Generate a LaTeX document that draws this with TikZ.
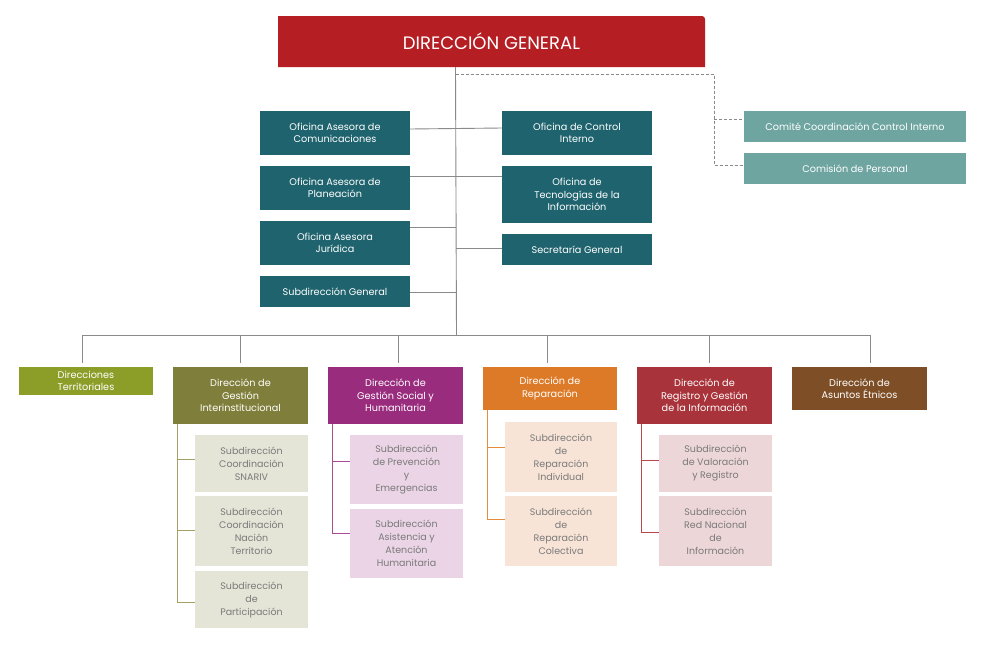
\documentclass[tikz,border=0pt]{standalone}
\usepackage{fontspec}
\setmainfont{Poppins}
\usetikzlibrary{calc}
\definecolor{dgred}{HTML}{B51F24}
\definecolor{teal1}{HTML}{1E636D}
\definecolor{teal2}{HTML}{6FA5A1}
\definecolor{cterr}{HTML}{8C9E27}
\definecolor{cgint}{HTML}{7F7E3A}
\definecolor{cgsoc}{HTML}{9A2C7E}
\definecolor{crep}{HTML}{DD7A27}
\definecolor{creg}{HTML}{A8333A}
\definecolor{cetn}{HTML}{7E4F27}
\definecolor{lgint}{HTML}{E4E4D7}
\definecolor{lgsoc}{HTML}{EAD4E5}
\definecolor{lrep}{HTML}{F7E4D6}
\definecolor{lreg}{HTML}{EDD6D8}
\definecolor{subtxt}{HTML}{7A7A7A}
\definecolor{lnolive}{HTML}{A3A163}
\definecolor{lnmag}{HTML}{AC4B93}
\definecolor{lnor}{HTML}{E58C3E}
\definecolor{lnred}{HTML}{BA474E}
\definecolor{lngrey}{HTML}{8A8A8A}
\tikzset{
  box/.style={rectangle, inner sep=0pt, align=center, text=white,
    font=\fontsize{9.7}{12.5}\selectfont},
  tealbox/.style={box, fill=teal1},
  ltealbox/.style={box, fill=teal2},
  subbox/.style={rectangle, inner sep=0pt, align=center, text=subtxt,
    font=\fontsize{9.5}{13}\selectfont},
  conn/.style={draw=lngrey, line width=0.9pt},
  dconn/.style={draw=lngrey, line width=0.9pt, dash pattern=on 3pt off 2pt},
}
\begin{document}
\begin{tikzpicture}[x=1pt,y=-1pt]
\useasboundingbox (0,0) rectangle (1005,654);
\fill[white] (0,0) rectangle (1005,654);

% Direccion General
\fill[dgred] (278,16) -- (702,16) arc[start angle=-90, end angle=0, radius=3] -- (705,67) -- (278,67) -- cycle;
\node[box, minimum width=427, minimum height=51,
  font=\fontsize{18}{20}\selectfont] (dg) at (491.5,41.5) {DIRECCIÓN GENERAL};

% Offices
\node[tealbox, minimum width=150, minimum height=44] (com) at (335,133) {Oficina Asesora de\\Comunicaciones};
\node[tealbox, minimum width=150, minimum height=44] (pla) at (335,188) {Oficina Asesora de\\Planeación};
\node[tealbox, minimum width=150, minimum height=44] (jur) at (335,243) {Oficina Asesora\\Jurídica};
\node[tealbox, minimum width=150, minimum height=31] (sgen) at (335,291.5) {Subdirección General};
\node[tealbox, minimum width=150, minimum height=44] (ci) at (577,133) {Oficina de Control\\Interno};
\node[tealbox, minimum width=150, minimum height=57] (tec) at (577,194.5) {Oficina de\\Tecnologías de la\\Información};
\node[tealbox, minimum width=150, minimum height=31] (sec) at (577,249.5) {Secretaría General};

% Committees
\node[ltealbox, minimum width=222, minimum height=31] (comite) at (855,126.5) {Comité Coordinación Control Interno};
\node[ltealbox, minimum width=222, minimum height=31] (comision) at (855,168.5) {Comisión de Personal};

% Coordinates for trunk and bus
\coordinate (trtop) at (455.5,67);
\coordinate (trbot) at (456.5,335);
\coordinate (busL) at (82,335);
\coordinate (busR) at (870,335);
\coordinate (dashA) at (455.5,74);
\coordinate (dashB) at (714,74);
\coordinate (dashC) at (714,165);

% Trunk
\draw[conn] (dg.south -| trtop) -- (trbot);
\draw[conn] (busL) -- (busR);
% Office links
\draw[conn] (com.east |- 0,129) -- (ci.west |- 0,128);
\draw[conn] (pla.east |- 0,176) -- (tec.west |- 0,176);
\draw[conn] (jur.east |- 0,227) -- (456,227);
\draw[conn] (456,248) -- (sec.west |- 0,248);
\draw[conn] (sgen.east |- 0,292) -- (456.5,292);

% Dashed to committees
\draw[dconn] (dashA) -- (dashB) -- (dashC) -- (comision.west |- dashC);
\draw[dconn] (714,119) -- (comite.west |- 0,119);

% Bottom directorates
\node[box, fill=cterr, minimum width=134, minimum height=28] (terr) at (86,381) {Direcciones\\Territoriales};
\node[box, fill=cgint, minimum width=135, minimum height=57] (gint) at (240.5,395.5) {Dirección de\\Gestión\\Interinstitucional};
\node[box, fill=cgsoc, minimum width=135, minimum height=57] (gsoc) at (395.5,395.5) {Dirección de\\Gestión Social y\\Humanitaria};
\node[box, fill=crep, minimum width=134, minimum height=43] (rep) at (550,388.5) {Dirección de\\Reparación};
\node[box, fill=creg, minimum width=135, minimum height=57] (reg) at (704.5,395.5) {Dirección de\\Registro y Gestión\\de la Información};
\node[box, fill=cetn, minimum width=135, minimum height=43] (etn) at (859.5,388.5) {Dirección de\\Asuntos Étnicos};

% Drops
\foreach \x/\n in {82/terr,240/gint,398/gsoc,547/rep,709/reg,870/etn}{
  \draw[conn] (\x,335) -- (\x,363);
}

% Sub boxes
\node[subbox, fill=lgint, minimum width=113, minimum height=57] (s1a) at (251.5,463.5) {Subdirección\\Coordinación\\SNARIV};
\node[subbox, fill=lgint, minimum width=113, minimum height=70] (s1b) at (251.5,531) {Subdirección\\Coordinación\\Nación\\Territorio};
\node[subbox, fill=lgint, minimum width=113, minimum height=57] (s1c) at (251.5,599.5) {Subdirección\\de\\Participación};
\node[subbox, fill=lgsoc, minimum width=113, minimum height=69] (s2a) at (406.5,469.5) {Subdirección\\de Prevención\\y\\Emergencias};
\node[subbox, fill=lgsoc, minimum width=113, minimum height=69] (s2b) at (406.5,543.5) {Subdirección\\Asistencia y\\Atención\\Humanitaria};
\node[subbox, fill=lrep, minimum width=112, minimum height=70] (s3a) at (561,457) {Subdirección\\de\\Reparación\\Individual};
\node[subbox, fill=lrep, minimum width=112, minimum height=70] (s3b) at (561,531) {Subdirección\\de\\Reparación\\Colectiva};
\node[subbox, fill=lreg, minimum width=113, minimum height=57] (s4a) at (715.5,463.5) {Subdirección\\de Valoración\\y Registro};
\node[subbox, fill=lreg, minimum width=113, minimum height=70] (s4b) at (715.5,531) {Subdirección\\Red Nacional\\de\\Información};

% Sub connectors
\draw[draw=lnolive, line width=1pt] (177,424) |- (s1c.west |- 0,602);
\draw[draw=lnolive, line width=1pt] (177,459) -- (s1a.west |- 0,459);
\draw[draw=lnolive, line width=1pt] (177,530) -- (s1b.west |- 0,530);
\draw[draw=lnmag, line width=1pt] (332,424) |- (s2b.west |- 0,533);
\draw[draw=lnmag, line width=1pt] (332,461) -- (s2a.west |- 0,461);
\draw[draw=lnor, line width=1pt] (487,410) |- (s3b.west |- 0,519);
\draw[draw=lnor, line width=1pt] (487,447) -- (s3a.west |- 0,447);
\draw[draw=lnred, line width=1pt] (641,424) |- (s4b.west |- 0,532);
\draw[draw=lnred, line width=1pt] (641,460) -- (s4a.west |- 0,460);
\end{tikzpicture}
\end{document}
